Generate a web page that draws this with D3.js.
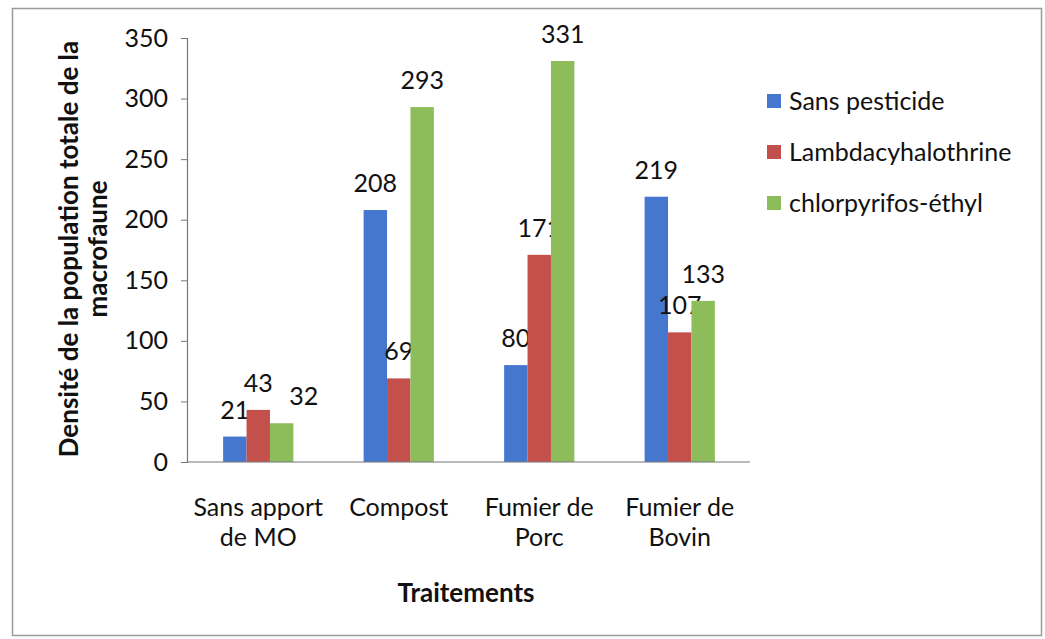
<!DOCTYPE html>
<html>
<head>
<meta charset="utf-8">
<script src="https://cdn.jsdelivr.net/npm/d3@7"></script>
<style>
  body { margin: 0; background: #fff; }
  svg text { font-family: Lato, "Open Sans", sans-serif; fill: #111; }
</style>
</head>
<body>
<div id="chart"></div>
<script>
// Data
const categories = [["Sans apport", "de MO"], ["Compost"], ["Fumier de", "Porc"], ["Fumier de", "Bovin"]];
const seriesNames = ["Sans pesticide", "Lambdacyhalothrine", "chlorpyrifos-éthyl"];
const sansPesticide = [21, 208, 80, 219];
const lambda = [43, 69, 171, 107];
const chlorpyrifos = [32, 293, 331, 133];
const yTicks = [0, 50, 100, 150, 200, 250, 300, 350];

const seriesValues = [sansPesticide, lambda, chlorpyrifos];
const colors = ["#4677cf", "#c4504b", "#8dbc5a"];

// label nudge (px) where Excel moved a label aside
const nudge = {"0-2": [22, 0]};

const width = 1045;
const height = 639;
const svg = d3.select("#chart")
  .append("svg")
  .attr("width", width)
  .attr("height", height);

// outer frame
svg.append("rect")
  .attr("x", 12.5).attr("y", 8.5)
  .attr("width", 1029).attr("height", 627)
  .attr("fill", "none")
  .attr("stroke", "#9a9a9a")
  .attr("stroke-width", 1.5);

// scales
const x0 = d3.scaleBand()
  .domain(d3.range(categories.length))
  .range([188, 750])
  .paddingInner(0.5)
  .paddingOuter(0.25);
const x1 = d3.scaleBand()
  .domain(d3.range(seriesNames.length))
  .range([0, x0.bandwidth()]);
const y = d3.scaleLinear()
  .domain([0, 350])
  .range([462, 38]);

// y axis
const yAxis = svg.append("g")
  .attr("transform", "translate(187, 0)")
  .call(d3.axisLeft(y).tickValues(yTicks).tickSize(6).tickPadding(13));
yAxis.select(".domain").attr("stroke", "#777").attr("stroke-width", 1.2);
yAxis.selectAll(".tick line").attr("stroke", "#777");
yAxis.selectAll(".tick text").attr("font-size", 25).attr("fill", "#111")
  .style("font-family", "Lato, sans-serif");

// bars
const groups = svg.append("g").selectAll("g")
  .data(categories)
  .join("g")
  .attr("transform", (d, i) => `translate(${x0(i)}, 0)`);

groups.each(function(c, ci) {
  const g = d3.select(this);
  seriesValues.forEach((vals, si) => {
    g.append("rect")
      .attr("x", x1(si))
      .attr("y", y(vals[ci]))
      .attr("width", x1.bandwidth())
      .attr("height", y(0) - y(vals[ci]))
      .attr("fill", colors[si]);
    const n = nudge[ci + "-" + si] || [0, 0];
    g.append("text")
      .attr("x", x1(si) + x1.bandwidth() / 2 + n[0])
      .attr("y", y(vals[ci]) - 18 + n[1])
      .attr("text-anchor", "middle")
      .attr("font-size", 25)
      .text(vals[ci]);
  });
});

// x axis line
svg.append("line")
  .attr("x1", 187).attr("x2", 750)
  .attr("y1", y(0)).attr("y2", y(0))
  .attr("stroke", "#777").attr("stroke-width", 1.2);

// category labels
categories.forEach((lines, i) => {
  const cx = x0(i) + x0.bandwidth() / 2;
  const t = svg.append("text")
    .attr("x", cx)
    .attr("y", 516)
    .attr("text-anchor", "middle")
    .attr("font-size", 25);
  lines.forEach((l, k) => {
    t.append("tspan")
      .attr("x", cx)
      .attr("dy", k === 0 ? 0 : 30)
      .text(l);
  });
});

// axis titles
svg.append("text")
  .attr("x", 466).attr("y", 602)
  .attr("text-anchor", "middle")
  .attr("font-size", 26)
  .attr("font-weight", "bold")
  .text("Traitements");

const yt = svg.append("text")
  .attr("transform", "translate(78, 249) rotate(-90)")
  .attr("text-anchor", "middle")
  .attr("font-size", 26)
  .attr("font-weight", "bold");
yt.append("tspan").attr("x", 0).attr("dy", 0).text("Densité de la population totale de la");
yt.append("tspan").attr("x", 0).attr("dy", 29).text("macrofaune");

// legend
const legend = svg.append("g").attr("transform", "translate(767, 0)");
seriesNames.forEach((name, i) => {
  const ly = 101 + i * 51;
  legend.append("rect")
    .attr("x", 0).attr("y", ly - 7)
    .attr("width", 14).attr("height", 14)
    .attr("fill", colors[i]);
  legend.append("text")
    .attr("x", 22).attr("y", ly + 9)
    .attr("font-size", 25)
    .text(name);
});
</script>
</body>
</html>
